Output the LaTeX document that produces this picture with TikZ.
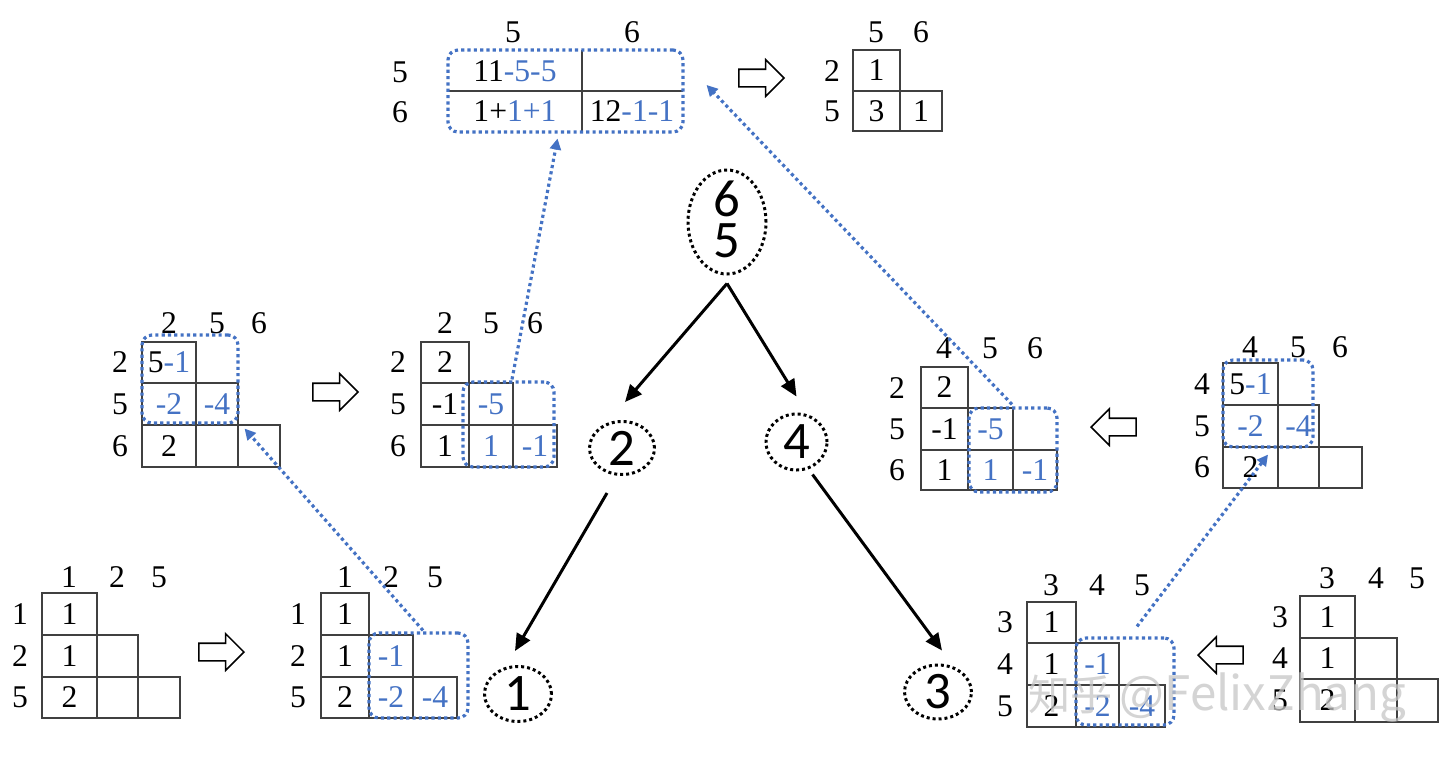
\documentclass[tikz,border=0pt]{standalone}
\usepackage{fontspec}
\setmainfont{Liberation Serif}
\newfontfamily\calib{Carlito}
\newfontfamily\cjk{Noto Sans CJK SC}
\usetikzlibrary{arrows.meta,shapes.geometric,shapes.arrows}
\definecolor{tblue}{RGB}{68,114,196}
\newcommand\bl[1]{\textcolor{tblue}{#1}}
\newcommand\mcell[6]{\draw[cellline] (#2,#3) rectangle (#4,#5); \node[celltext] (#1) at ({(#2+#4)/2},{(#3+#5)/2}) {#6};}
\begin{document}
\begin{tikzpicture}[x=0.02cm,y=-0.02cm,
  celltext/.style={font=\fontsize{18}{20}\selectfont, inner sep=0pt},
  cellline/.style={draw=black!75, line width=0.8pt},
  bluebox/.style={rectangle, draw=tblue, line width=1.8pt, dash pattern=on 1.8pt off 1.8pt, rounded corners=0.2cm, inner sep=0pt},
  bluearrow/.style={draw=tblue, line width=1.8pt, dash pattern=on 1.8pt off 1.8pt, -{Triangle[length=0.22cm,width=0.22cm]}},
  blackarrow/.style={draw=black, line width=1.7pt, -{Triangle[length=0.34cm,width=0.3cm]}},
  dotell/.style={ellipse, draw=black, line width=1.7pt, dash pattern=on 1.7pt off 1.7pt, inner sep=0pt},
  elltext/.style={font=\calib\fontsize{30}{30}\selectfont, inner sep=0pt},
  bigdigit/.style={font=\calib\fontsize{30}{30}\selectfont, inner sep=0pt},
  hollow/.style={single arrow, draw=black, line width=0.9pt, fill=white, minimum height=0.9cm, inner xsep=0pt, inner ysep=0.16cm, single arrow head extend=0.19cm}
]
\useasboundingbox (0,0) rectangle (1440,765);
\fill[white] (0,0) rectangle (1440,765);

% ---------- M1 bottom-left
\mcell{m1a}{42}{593}{97}{635}{1}
\mcell{m1b}{42}{635}{97}{677}{1}
\mcell{m1c}{97}{635}{138}{677}{}
\mcell{m1d}{42}{677}{97}{718}{2}
\mcell{m1e}{97}{677}{138}{718}{}
\mcell{m1f}{138}{677}{180}{718}{}
\node[celltext] (m1h1) at (69,577) {1};
\node[celltext] (m1h2) at (117,577) {2};
\node[celltext] (m1h3) at (159,577) {5};
\node[celltext] (m1r1) at (20,614) {1};
\node[celltext] (m1r2) at (20,656) {2};
\node[celltext] (m1r3) at (20,697) {5};

% ---------- M2 bottom-middle-left
\mcell{m2a}{321}{593}{369}{635}{1}
\mcell{m2b}{321}{635}{369}{677}{1}
\mcell{m2c}{369}{635}{413}{677}{\bl{-1}}
\mcell{m2d}{321}{677}{369}{718}{2}
\mcell{m2e}{369}{677}{413}{718}{\bl{-2}}
\mcell{m2f}{413}{677}{457}{718}{\bl{-4}}
\node[celltext] (m2h1) at (345,577) {1};
\node[celltext] (m2h2) at (391,577) {2};
\node[celltext] (m2h3) at (435,577) {5};
\node[celltext] (m2r1) at (298,614) {1};
\node[celltext] (m2r2) at (298,656) {2};
\node[celltext] (m2r3) at (298,697) {5};

% ---------- M3 middle-left
\mcell{m3a}{142}{342}{196}{383}{5\bl{-1}}
\mcell{m3b}{142}{383}{196}{425}{\bl{-2}}
\mcell{m3c}{196}{383}{238}{425}{\bl{-4}}
\mcell{m3d}{142}{425}{196}{467}{2}
\mcell{m3e}{196}{425}{238}{467}{}
\mcell{m3f}{238}{425}{280}{467}{}
\node[celltext] (m3h1) at (169,323) {2};
\node[celltext] (m3h2) at (217,323) {5};
\node[celltext] (m3h3) at (259,323) {6};
\node[celltext] (m3r1) at (120,362) {2};
\node[celltext] (m3r2) at (120,404) {5};
\node[celltext] (m3r3) at (120,446) {6};

% ---------- M4 middle
\mcell{m4a}{421}{342}{469}{383}{2}
\mcell{m4b}{421}{383}{469}{425}{-1}
\mcell{m4c}{469}{383}{513}{425}{\bl{-5}}
\mcell{m4d}{421}{425}{469}{467}{1}
\mcell{m4e}{469}{425}{513}{467}{\bl{1}}
\mcell{m4f}{513}{425}{557}{467}{\bl{-1}}
\node[celltext] (m4h1) at (445,323) {2};
\node[celltext] (m4h2) at (491,323) {5};
\node[celltext] (m4h3) at (535,323) {6};
\node[celltext] (m4r1) at (398,362) {2};
\node[celltext] (m4r2) at (398,404) {5};
\node[celltext] (m4r3) at (398,446) {6};

% ---------- M5 top
\draw[cellline] (448,91) -- (683,91);
\draw[cellline] (582,50) -- (582,132);
\node[celltext] (m5a) at (515,71) {11\bl{-5-5}};
\node[celltext] (m5b) at (515,111) {1+\bl{1+1}};
\node[celltext] (m5c) at (632,111) {12\bl{-1-1}};
\node[celltext] (m5h1) at (513,32) {5};
\node[celltext] (m5h2) at (632,32) {6};
\node[celltext] (m5r1) at (400,72) {5};
\node[celltext] (m5r2) at (400,112) {6};

% ---------- M6 top-right
\mcell{m6a}{853}{50}{900}{91}{1}
\mcell{m6b}{853}{91}{900}{131}{3}
\mcell{m6c}{900}{91}{942}{131}{1}
\node[celltext] (m6h1) at (876,32) {5};
\node[celltext] (m6h2) at (921,32) {6};
\node[celltext] (m6r1) at (832,71) {2};
\node[celltext] (m6r2) at (832,111) {5};

% ---------- M7 middle-right
\mcell{m7a}{921}{367}{968}{408}{2}
\mcell{m7b}{921}{408}{968}{450}{-1}
\mcell{m7c}{968}{408}{1013}{450}{\bl{-5}}
\mcell{m7d}{921}{450}{968}{490}{1}
\mcell{m7e}{968}{450}{1013}{490}{\bl{1}}
\mcell{m7f}{1013}{450}{1057}{490}{\bl{-1}}
\node[celltext] (m7h1) at (944,348) {4};
\node[celltext] (m7h2) at (990,348) {5};
\node[celltext] (m7h3) at (1035,348) {6};
\node[celltext] (m7r1) at (897,388) {2};
\node[celltext] (m7r2) at (897,429) {5};
\node[celltext] (m7r3) at (897,470) {6};

% ---------- M8 far-right
\mcell{m8a}{1223}{363}{1278}{405}{5\bl{-1}}
\mcell{m8b}{1223}{405}{1278}{447}{\bl{-2}}
\mcell{m8c}{1278}{405}{1319}{447}{\bl{-4}}
\mcell{m8d}{1223}{447}{1278}{488}{2}
\mcell{m8e}{1278}{447}{1319}{488}{}
\mcell{m8f}{1319}{447}{1362}{488}{}
\node[celltext] (m8h1) at (1250,347) {4};
\node[celltext] (m8h2) at (1298,347) {5};
\node[celltext] (m8h3) at (1340,347) {6};
\node[celltext] (m8r1) at (1202,384) {4};
\node[celltext] (m8r2) at (1202,426) {5};
\node[celltext] (m8r3) at (1202,467) {6};

% ---------- M9 bottom-right-middle
\mcell{m9a}{1027}{602}{1076}{643}{1}
\mcell{m9b}{1027}{643}{1076}{685}{1}
\mcell{m9c}{1076}{643}{1119}{685}{\bl{-1}}
\mcell{m9d}{1027}{685}{1076}{727}{2}
\mcell{m9e}{1076}{685}{1119}{727}{\bl{-2}}
\mcell{m9f}{1119}{685}{1165}{727}{\bl{-4}}
\node[celltext] (m9h1) at (1051,585) {3};
\node[celltext] (m9h2) at (1097,585) {4};
\node[celltext] (m9h3) at (1142,585) {5};
\node[celltext] (m9r1) at (1005,622) {3};
\node[celltext] (m9r2) at (1005,664) {4};
\node[celltext] (m9r3) at (1005,706) {5};

% ---------- M10 far bottom-right
\mcell{m10a}{1300}{596}{1355}{638}{1}
\mcell{m10b}{1300}{638}{1355}{679}{1}
\mcell{m10c}{1355}{638}{1397}{679}{}
\mcell{m10d}{1300}{679}{1355}{722}{2}
\mcell{m10e}{1355}{679}{1397}{722}{}
\mcell{m10f}{1397}{679}{1438}{722}{}
\node[celltext] (m10h1) at (1327,578) {3};
\node[celltext] (m10h2) at (1376,578) {4};
\node[celltext] (m10h3) at (1417,578) {5};
\node[celltext] (m10r1) at (1280,617) {3};
\node[celltext] (m10r2) at (1280,658) {4};
\node[celltext] (m10r3) at (1280,700) {5};

% ---------- blue dotted boxes
\node[bluebox, minimum width=99*0.02cm, minimum height=85*0.02cm] (b1) at (418.5,675.5) {};
\node[bluebox, minimum width=96*0.02cm, minimum height=88*0.02cm] (b2) at (190,379) {};
\node[bluebox, minimum width=91*0.02cm, minimum height=85*0.02cm] (b3) at (508.5,424.5) {};
\node[bluebox, minimum width=235*0.02cm, minimum height=82*0.02cm] (b4) at (565.5,91) {};
\node[bluebox, minimum width=88*0.02cm, minimum height=84*0.02cm] (b5) at (1013,450) {};
\node[bluebox, minimum width=98*0.02cm, minimum height=87*0.02cm] (b6) at (1125,681.5) {};
\node[bluebox, minimum width=90*0.02cm, minimum height=87*0.02cm] (b7) at (1268,403.5) {};

% ---------- blue dotted arrows
\draw[bluearrow] ([shift={(4.5,-1)}]b1.north) -- ([shift={(5,4)}]b2.south east);
\draw[bluearrow] ([shift={(3.5,-1)}]b3.north) -- ([shift={(-8,5)}]b4.south);
\draw[bluearrow] ([shift={(-1,-2)}]b5.north) -- ([shift={(22,-6)}]b4.east);
\draw[bluearrow] ([shift={(12,-10)}]b6.north) -- ([shift={(0,6)}]b7.south);

% ---------- hollow arrows
\node[hollow] (h1) at (217,652) {};
\node[hollow] (h2) at (331,392) {};
\node[hollow] (h3) at (757,78) {};
\node[hollow, shape border rotate=180] (h4) at (1118,427) {};
\node[hollow, shape border rotate=180] (h5) at (1225,655) {};

% ---------- tree ellipses
\node[dotell, minimum width=78*0.02cm, minimum height=104*0.02cm] (e65) at (727,222) {};
\node[bigdigit] (t6) at (727,199) {6};
\node[bigdigit] (t5) at (727,241) {5};
\node[dotell, minimum width=65*0.02cm, minimum height=53*0.02cm, label={[elltext]center:2}] (e2) at (622,448) {};
\node[dotell, minimum width=61*0.02cm, minimum height=56*0.02cm, label={[elltext]center:4}] (e4) at (796.5,442) {};
\node[dotell, minimum width=67*0.02cm, minimum height=55*0.02cm, label={[elltext]center:1}] (e1) at (518,694) {};
\node[dotell, minimum width=67*0.02cm, minimum height=54*0.02cm, label={[elltext]center:3}] (e3) at (938,692) {};

% ---------- tree arrows
\draw[blackarrow] ([shift={(0,8)}]e65.south) -- ([shift={(3,-18)}]e2.north);
\draw[blackarrow] ([shift={(0,8)}]e65.south) -- ([shift={(0,-16)}]e4.north);
\draw[blackarrow] ([shift={(-15,17)}]e2.south) -- ([shift={(-3,-14)}]e1.north);
\draw[blackarrow] ([shift={(16,3)}]e4.south) -- ([shift={(4,-13)}]e3.north);

% ---------- watermark
\node[anchor=west, text=gray!45, opacity=0.75, inner sep=0pt] (wm) at (1028,698) {{\cjk\fontsize{24}{24}\selectfont 知乎}\hspace{0.4em}{\cjk\fontsize{27}{27}\selectfont @FelixZhang}};
\end{tikzpicture}
\end{document}
